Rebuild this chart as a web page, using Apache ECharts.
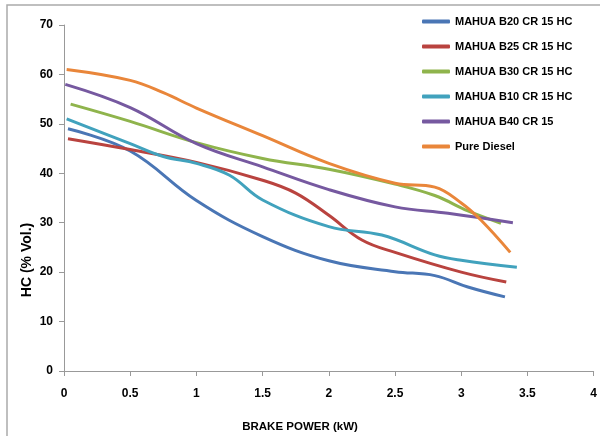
<!DOCTYPE html>
<html>
<head>
<meta charset="utf-8">
<script src="https://cdn.jsdelivr.net/npm/echarts@6/dist/echarts.min.js"></script>
<style>
  html, body { margin: 0; padding: 0; background: #fff; }
  #chart { width: 600px; height: 436px; }
</style>
</head>
<body>
<div id="chart"></div>
<script>
// values
const seriesNames = ['MAHUA B20 CR 15 HC', 'MAHUA B25 CR 15 HC', 'MAHUA B30 CR 15 HC', 'MAHUA B10 CR 15 HC', 'MAHUA B40 CR 15', 'Pure Diesel']

const b20X = [0.03, 0.5, 1.0, 1.5, 2.0, 2.5, 2.8, 3.05, 3.33]
const b20Y = [49, 44.5, 34.5, 27.2, 22.3, 20.1, 19.3, 17, 15]

const b25X = [0.03, 0.5, 1.0, 1.5, 1.75, 2.0, 2.25, 2.5, 3.0, 3.34]
const b25Y = [47, 44.8, 42.2, 38.6, 36, 31.5, 26.5, 24, 20, 18]

const b30X = [0.05, 0.5, 1.0, 1.5, 2.0, 2.5, 2.8, 3.05, 3.3]
const b30Y = [54, 50.5, 46.2, 43, 40.8, 37.8, 35.5, 32.4, 29.9]

const b10X = [0.02, 0.5, 0.75, 1.0, 1.25, 1.5, 2.0, 2.4, 2.8, 3.0, 3.42]
const b10Y = [51, 46, 43.4, 42, 39.6, 34.6, 29.2, 27.5, 23.5, 22.4, 21]

const b40X = [0.01, 0.5, 1.0, 1.5, 2.0, 2.5, 2.9, 3.39]
const b40Y = [58, 53.3, 46, 41.3, 36.7, 33.2, 31.9, 30]

const dieselX = [0.02, 0.5, 0.75, 1.0, 1.5, 2.0, 2.5, 2.8, 3.0, 3.15, 3.37]
const dieselY = [61, 58.8, 56.3, 53.2, 47.6, 42, 38, 37.2, 34, 30.5, 24]

const xTicks = [0, 0.5, 1, 1.5, 2, 2.5, 3, 3.5, 4]
const yTicks = [0, 10, 20, 30, 40, 50, 60, 70]

const colors = ['#4A76B5', '#B9433F', '#8FB44C', '#41A2BD', '#7659A0', '#E9863A']
const seriesX = [b20X, b25X, b30X, b10X, b40X, dieselX]
const seriesY = [b20Y, b25Y, b30Y, b10Y, b40Y, dieselY]

const font = 'Liberation Sans'
const chart = echarts.init(document.getElementById('chart'))

const option = {
  animation: false,
  color: colors,
  grid: { left: 64, right: 6, top: 25, bottom: 65 },
  legend: {
    orient: 'vertical',
    left: 417,
    top: 10,
    itemWidth: 28,
    itemHeight: 4,
    itemGap: 12,
    icon: 'roundRect',
    textStyle: { fontFamily: font, fontWeight: 'bold', fontSize: 11, color: '#000', lineHeight: 13 },
    data: seriesNames
  },
  xAxis: {
    type: 'value',
    min: xTicks[0],
    max: xTicks[xTicks.length - 1],
    interval: 0.5,
    splitLine: { show: false },
    axisLine: { lineStyle: { color: '#999', width: 1 } },
    axisTick: { length: 5, lineStyle: { color: '#999' } },
    axisLabel: { margin: 17, fontFamily: font, fontWeight: 'bold', fontSize: 12, color: '#000' }
  },
  yAxis: {
    type: 'value',
    min: yTicks[0],
    max: yTicks[yTicks.length - 1],
    interval: 10,
    splitLine: { show: false },
    axisLine: { show: true, lineStyle: { color: '#999', width: 1 } },
    axisTick: { show: true, length: 5, lineStyle: { color: '#999' } },
    axisLabel: { margin: 11, fontFamily: font, fontWeight: 'bold', fontSize: 12, color: '#000' }
  },
  graphic: [
    {
      type: 'rect',
      shape: { x: 7, y: 5, width: 800, height: 600 },
      style: { fill: 'none', stroke: '#aaa', lineWidth: 1.5 },
      silent: true
    },
    {
      type: 'text',
      x: 300, y: 427,
      style: { text: 'BRAKE POWER (kW)', fontFamily: font, fontWeight: 'bold', fontSize: 11.5, fill: '#000', align: 'center', verticalAlign: 'middle' }
    },
    {
      type: 'text',
      x: 27, y: 260,
      rotation: Math.PI / 2,
      style: { text: 'HC (% Vol.)', fontFamily: font, fontWeight: 'bold', fontSize: 14, fill: '#000', align: 'center', verticalAlign: 'middle' }
    }
  ],
  series: seriesNames.map((name, i) => ({
    name,
    type: 'line',
    smooth: 0.4,
    symbol: 'none',
    lineStyle: { width: 3 },
    data: seriesX[i].map((x, j) => [x, seriesY[i][j]])
  }))
}
chart.setOption(option)
</script>
</body>
</html>
